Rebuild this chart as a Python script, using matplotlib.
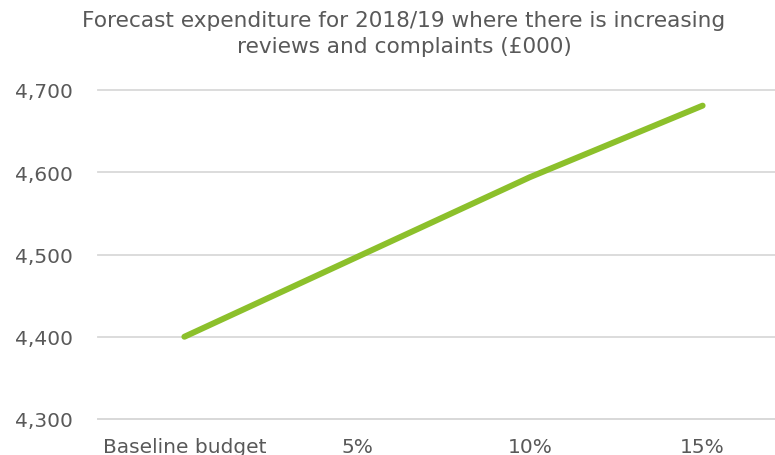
import matplotlib.pyplot as plt

categories = ["Baseline budget", "5%", "10%", "15%"]
values = [4400, 4497, 4594, 4681]
y_ticks = [4300, 4400, 4500, 4600, 4700]

text_col = "#595959"
grid_col = "#D9D9D9"
line_col = "#8CC02B"

fig = plt.figure(figsize=(7.75, 4.56), dpi=100)
ax = fig.add_axes([98 / 775, 36 / 456, 691 / 775, 329 / 456])

x = list(range(len(categories)))
ax.plot(x, values, color=line_col, linewidth=4.3, solid_capstyle="round")

ax.set_xlim(-0.5, len(categories) - 0.5)
ax.set_ylim(4300, 4700)
ax.set_yticks(y_ticks)
ax.set_yticklabels(["{:,}".format(v) for v in y_ticks])
ax.set_xticks(x)
ax.set_xticklabels(categories)
ax.tick_params(axis="y", length=0, pad=18, labelsize=14.5, labelcolor=text_col)
ax.tick_params(axis="x", length=0, pad=13, labelsize=14.5, labelcolor=text_col)
ax.yaxis.grid(True, color=grid_col, linewidth=1.3)
for gl in ax.get_ygridlines():
    gl.set_clip_on(False)
ax.set_axisbelow(True)
for s in ["top", "right", "left"]:
    ax.spines[s].set_visible(False)
ax.spines["bottom"].set_color(grid_col)
ax.spines["bottom"].set_linewidth(1.3)

fig.text(404 / 775, 1 - 34 / 456,
         "Forecast expenditure for 2018/19 where there is increasing\nreviews and complaints (£000)",
         ha="center", va="center", fontsize=15.6, color=text_col, linespacing=1.4)

fig.savefig("out.png", dpi=100)
